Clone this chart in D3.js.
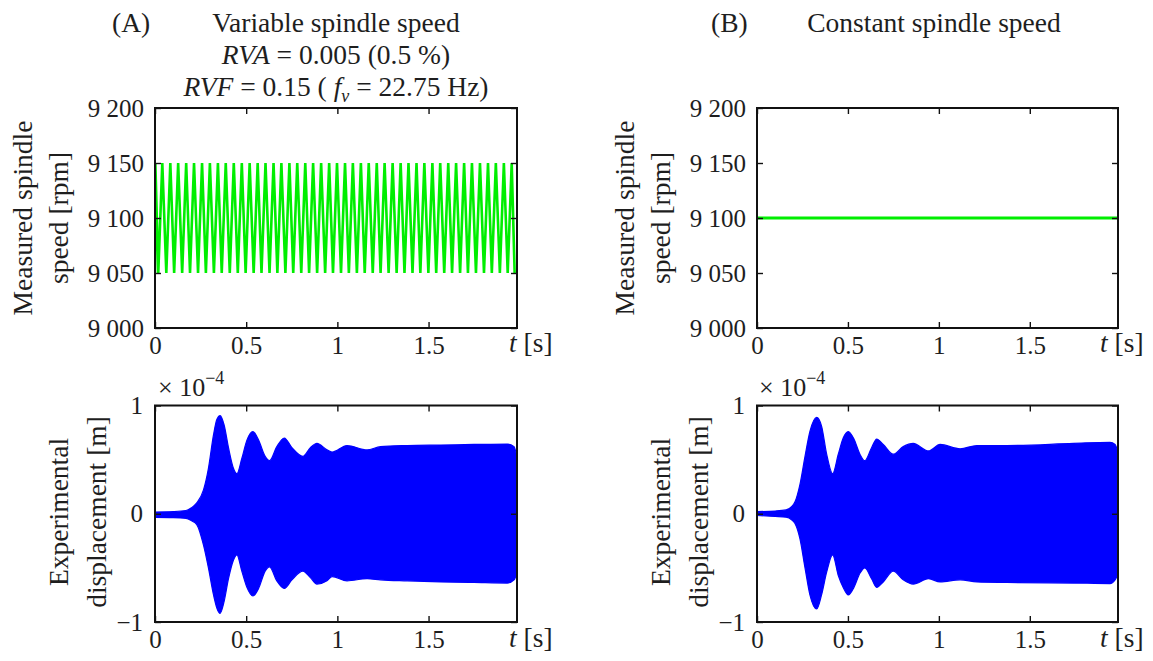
<!DOCTYPE html>
<html><head><meta charset="utf-8">
<script src="https://cdn.jsdelivr.net/npm/d3@7"></script>
<style>
body{margin:0;background:#fff}
svg{display:block;background:#fff}
text{font-family:"Liberation Serif","Times New Roman",serif !important;fill:#1e1e1e}
</style>
</head><body>
<svg id="chart" width="1153" height="661"></svg>
<script>
// ---------------- data ----------------
const xTickValues = [0, 0.5, 1, 1.5];
const xTickLabels = ["0", "0.5", "1", "1.5"];
const speedTickValues = [9000, 9050, 9100, 9150, 9200];
const speedTickLabels = ["9 000", "9 050", "9 100", "9 150", "9 200"];
const dispTickValues = [-1, 0, 1];
const dispTickLabels = ["\u22121", "0", "1"];
const timeMax = 1.985;

// (A) measured spindle speed: times of maxima (9150 rpm) and minima (9050 rpm)
const speedPeakTimesA = [0.002, 0.040, 0.084, 0.127, 0.171, 0.214, 0.258, 0.301, 0.345, 0.388,
  0.432, 0.476, 0.519, 0.563, 0.606, 0.650, 0.693, 0.737, 0.780, 0.824, 0.867, 0.911, 0.955,
  0.998, 1.042, 1.085, 1.129, 1.172, 1.216, 1.259, 1.303, 1.347, 1.390, 1.434, 1.477, 1.521,
  1.564, 1.608, 1.651, 1.695, 1.738, 1.782, 1.826, 1.869, 1.913, 1.956];
const speedTroughTimesA = [0.000, 0.018, 0.062, 0.105, 0.149, 0.192, 0.236, 0.279, 0.323, 0.366,
  0.410, 0.454, 0.497, 0.541, 0.584, 0.628, 0.671, 0.715, 0.758, 0.802, 0.845, 0.889, 0.933,
  0.976, 1.020, 1.063, 1.107, 1.150, 1.194, 1.237, 1.281, 1.325, 1.368, 1.412, 1.455, 1.499,
  1.542, 1.586, 1.629, 1.673, 1.716, 1.760, 1.804, 1.847, 1.891, 1.934, 1.972];
const speedPeakValueA = 9150;
const speedTroughValueA = 9050;

// (B) constant spindle speed
const speedTimesB = [0, 1.983];
const speedValuesB = [9100, 9100];

// (A) experimental displacement envelope (x 1e-4 m)
const dispTimesA = [0.000, 0.100, 0.170, 0.200, 0.229, 0.266, 0.293, 0.321, 0.339, 0.357, 0.379, 0.403,
  0.430, 0.449, 0.476, 0.504, 0.537, 0.568, 0.604, 0.628, 0.668, 0.709, 0.751, 0.811, 0.852,
  0.888, 0.943, 0.971, 1.053, 1.163, 1.236, 1.383, 1.566, 1.749, 1.932, 1.969, 1.984];
const dispUpperA = [0.016, 0.020, 0.030, 0.055, 0.10, 0.22, 0.42, 0.73, 0.87, 0.906, 0.82, 0.61,
  0.42, 0.37, 0.51, 0.68, 0.76, 0.68, 0.53, 0.49, 0.62, 0.70, 0.61, 0.53, 0.61,
  0.65, 0.59, 0.57, 0.63, 0.59, 0.62, 0.63, 0.635, 0.64, 0.644, 0.62, 0.53];
const dispLowerA = [-0.034, -0.036, -0.042, -0.065, -0.10, -0.29, -0.50, -0.75, -0.87, -0.92, -0.81, -0.60,
  -0.43, -0.38, -0.53, -0.68, -0.76, -0.69, -0.53, -0.49, -0.62, -0.69, -0.61, -0.53, -0.59,
  -0.65, -0.62, -0.58, -0.62, -0.60, -0.61, -0.62, -0.63, -0.635, -0.64, -0.61, -0.55];

// (B) experimental displacement envelope (x 1e-4 m)
const dispTimesB = [0.000, 0.100, 0.160, 0.190, 0.209, 0.236, 0.264, 0.291, 0.328, 0.355, 0.383, 0.416,
  0.447, 0.474, 0.502, 0.533, 0.566, 0.593, 0.630, 0.658, 0.694, 0.749, 0.804, 0.859, 0.943,
  1.007, 1.117, 1.209, 1.374, 1.740, 1.941, 1.969, 1.983];
const dispUpperB = [0.020, 0.025, 0.035, 0.065, 0.11, 0.27, 0.53, 0.76, 0.89, 0.81, 0.55, 0.37,
  0.55, 0.70, 0.76, 0.69, 0.55, 0.49, 0.61, 0.69, 0.64, 0.55, 0.62, 0.65, 0.58,
  0.64, 0.60, 0.63, 0.63, 0.65, 0.66, 0.64, 0.58];
const dispLowerB = [-0.016, -0.025, -0.032, -0.055, -0.09, -0.23, -0.50, -0.75, -0.88, -0.75, -0.54, -0.38,
  -0.57, -0.68, -0.75, -0.68, -0.55, -0.50, -0.60, -0.68, -0.63, -0.53, -0.61, -0.65, -0.60,
  -0.63, -0.61, -0.63, -0.635, -0.64, -0.645, -0.61, -0.57];

// ---------------- drawing ----------------
const svg = d3.select("#chart");
const FONT = '"Liberation Serif","Times New Roman",serif';
const TICK_FS = 25, LABEL_FS = 27.5, TITLE_FS = 27.5;
const GREEN = "#00ee00", BLUE = "#0000ff";

let clipId = 0;
function frame(g, x, y, yTickValues, yTickLabels, yPad) {
  const [x0, x1] = x.range();
  const [y1, y0] = y.range();
  const bottom = g.append("g").attr("transform", `translate(0,${y1})`)
    .call(d3.axisBottom(x).tickValues(xTickValues).tickSize(-6).tickPadding(8)
      .tickFormat((d, i) => xTickLabels[i]));
  const top = g.append("g").attr("transform", `translate(0,${y0})`)
    .call(d3.axisTop(x).tickValues(xTickValues).tickSize(-6).tickFormat(""));
  const left = g.append("g").attr("transform", `translate(${x0},0)`)
    .call(d3.axisLeft(y).tickValues(yTickValues).tickSize(-6).tickPadding(yPad)
      .tickFormat((d, i) => yTickLabels[i]));
  const right = g.append("g").attr("transform", `translate(${x1},0)`)
    .call(d3.axisRight(y).tickValues(yTickValues).tickSize(-6).tickFormat(""));
  [bottom, top, left, right].forEach(a => {
    a.attr("font-family", FONT).attr("font-size", TICK_FS);
    a.select(".domain").remove();
    a.selectAll(".tick line").attr("stroke", "#111").attr("stroke-width", 1.4);
    a.selectAll("text").attr("font-size", TICK_FS).style("font-family", FONT).attr("fill", "#1e1e1e");
  });
  g.append("rect").attr("x", x0).attr("y", y0).attr("width", x1 - x0).attr("height", y1 - y0)
    .attr("fill", "none").attr("stroke", "#111").attr("stroke-width", 2);
}

function clip(g, x, y) {
  const id = "clip" + (clipId++);
  const [x0, x1] = x.range();
  const [y1, y0] = y.range();
  svg.append("defs").append("clipPath").attr("id", id).append("rect")
    .attr("x", x0).attr("y", y0 - 2).attr("width", x1 - x0).attr("height", y1 - y0 + 4);
  return g.append("g").attr("clip-path", `url(#${id})`);
}

function tLabel(g, xStart, yBase) {
  const t = g.append("text").attr("x", xStart).attr("y", yBase).attr("font-size", LABEL_FS);
  t.append("tspan").attr("font-style", "italic").text("t");
  t.append("tspan").text(" [s]");
}

function yLabel(g, lines, xs, cy) {
  lines.forEach((s, i) => {
    g.append("text").attr("transform", `translate(${xs[i]},${cy}) rotate(-90)`)
      .attr("text-anchor", "middle").attr("font-size", LABEL_FS).text(s);
  });
}

function expLabel(g, xStart, yBase) {
  const t = g.append("text").attr("x", xStart).attr("y", yBase).attr("font-size", 26);
  t.append("tspan").text("\u00d7 10");
  t.append("tspan").attr("dy", -12).attr("font-size", 18).text("\u22124");
}

const panels = [
  { key: "A", left: 155, right: 517, tLabelX: 509, yLabX1: [32, 68], yLabX2: [68, 106], expX: 158 },
  { key: "B", left: 757, right: 1118, tLabelX: 1100, yLabX1: [634, 670], yLabX2: [670, 708], expX: 759 }
];
const TOP = [108, 328], BOT = [405.5, 622];

panels.forEach(p => {
  const x = d3.scaleLinear().domain([0, timeMax]).range([p.left, p.right]);
  const ySpeed = d3.scaleLinear().domain([9000, 9200]).range([TOP[1], TOP[0]]);
  const yDisp = d3.scaleLinear().domain([-1, 1]).range([BOT[1], BOT[0]]);

  // ---- speed panel ----
  const gs = svg.append("g");
  const cs = clip(gs, x, ySpeed);
  let speedPts;
  if (p.key === "A") {
    speedPts = speedPeakTimesA.map(t => [t, speedPeakValueA])
      .concat(speedTroughTimesA.map(t => [t, speedTroughValueA]))
      .sort((a, b) => a[0] - b[0]);
  } else {
    speedPts = speedTimesB.map((t, i) => [t, speedValuesB[i]]);
  }
  cs.append("path").datum(speedPts)
    .attr("d", d3.line().x(d => x(d[0])).y(d => ySpeed(d[1])))
    .attr("fill", "none").attr("stroke", GREEN)
    .attr("stroke-width", p.key === "A" ? 2.6 : 2.8).attr("stroke-linejoin", "miter");
  frame(gs, x, ySpeed, speedTickValues, speedTickLabels, 11);
  tLabel(gs, p.tLabelX, 352);
  yLabel(gs, ["Measured spindle", "speed [rpm]"], p.yLabX1, 218);

  // ---- displacement panel ----
  const gd = svg.append("g");
  const cd = clip(gd, x, yDisp);
  const times = p.key === "A" ? dispTimesA : dispTimesB;
  const up = p.key === "A" ? dispUpperA : dispUpperB;
  const lo = p.key === "A" ? dispLowerA : dispLowerB;
  const env = times.map((t, i) => ({ t, u: up[i], l: lo[i] }));
  cd.append("path").datum(env)
    .attr("d", d3.area().curve(d3.curveMonotoneX).x(d => x(d.t)).y0(d => yDisp(d.l)).y1(d => yDisp(d.u)))
    .attr("fill", BLUE).attr("stroke", BLUE).attr("stroke-width", 1.2);
  frame(gd, x, yDisp, dispTickValues, dispTickLabels, 12);
  tLabel(gd, p.tLabelX, 647);
  yLabel(gd, ["Experimental", "displacement [m]"], p.yLabX2, 512);
  expLabel(gd, p.expX, 396);
});

// ---------------- titles ----------------
function txt(x, y, s, anchor) {
  return svg.append("text").attr("x", x).attr("y", y).attr("font-size", TITLE_FS)
    .attr("text-anchor", anchor || "start").text(s);
}
txt(112, 32, "(A)");
txt(336, 32, "Variable spindle speed", "middle");
const l2 = svg.append("text").attr("x", 336).attr("y", 64).attr("font-size", TITLE_FS).attr("text-anchor", "middle");
l2.append("tspan").attr("font-style", "italic").text("RVA");
l2.append("tspan").text(" = 0.005 (0.5 %)");
const l3 = svg.append("text").attr("x", 336).attr("y", 96).attr("font-size", TITLE_FS).attr("text-anchor", "middle");
l3.append("tspan").attr("font-style", "italic").text("RVF");
l3.append("tspan").text(" = 0.15 ( ");
l3.append("tspan").attr("font-style", "italic").text("f");
l3.append("tspan").attr("font-style", "italic").attr("font-size", 18).attr("dy", 6).text("v");
l3.append("tspan").attr("dy", -6).text(" = 22.75 Hz)");
txt(711, 32, "(B)");
txt(934, 32, "Constant spindle speed", "middle");
</script>
</body></html>
